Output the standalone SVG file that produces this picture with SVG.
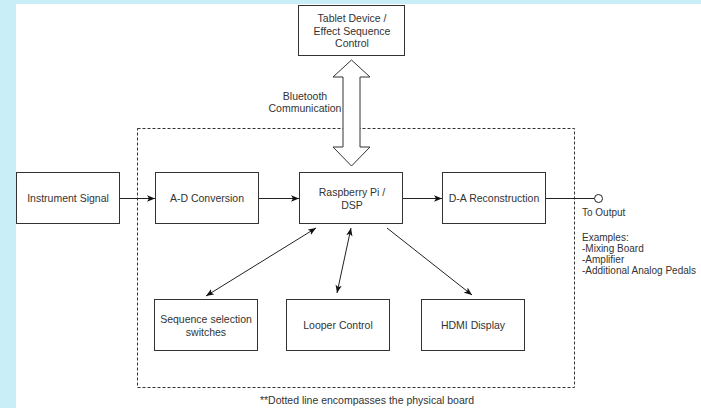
<svg xmlns="http://www.w3.org/2000/svg" width="701" height="408" viewBox="0 0 701 408">
<style>
.box{fill:#fff;stroke:#333;stroke-width:1}
.t{font-family:"Liberation Sans",Arial,sans-serif;font-size:10.5px;fill:#333;text-anchor:middle}
.tl{font-family:"Liberation Sans",Arial,sans-serif;font-size:10px;fill:#333}
.edge{fill:none;stroke:#222;stroke-width:1}
</style>
<defs>
<marker id="arr" markerUnits="userSpaceOnUse" markerWidth="9" markerHeight="8" refX="8" refY="4" orient="auto-start-reverse" viewBox="0 0 9 8">
<path d="M0,0.8 L8,4 L0,7.2 L2,4 z" fill="#111"/>
</marker>
</defs>
<rect x="0" y="0" width="701" height="408" fill="#c9eef8"/>
<rect x="16" y="4" width="685" height="404" fill="#fff"/>
<g id="board">
<rect x="137.5" y="128.5" width="437" height="259" fill="none" stroke="#333" stroke-width="1" stroke-dasharray="3 2"/>
</g>
<g id="tablet">
<rect class="box" x="298.5" y="5.5" width="106" height="50"/>
<text class="t" x="352" y="22">Tablet Device /</text>
<text class="t" x="352" y="34.5">Effect Sequence</text>
<text class="t" x="352" y="47">Control</text>
</g>
<g id="connectors">
<polygon points="351.5,60 370,77 360,77 360,147 370,147 351.5,166 333,147 343,147 343,77 333,77" fill="#fff" stroke="#333" stroke-width="1"/>
<line class="edge" x1="114" y1="198.5" x2="155" y2="198.5" marker-end="url(#arr)"/>
<line class="edge" x1="255" y1="198.5" x2="299" y2="198.5" marker-end="url(#arr)"/>
<line class="edge" x1="403" y1="198.5" x2="442" y2="198.5" marker-end="url(#arr)"/>
<line class="edge" x1="546" y1="198.5" x2="594.5" y2="198.5"/>
<line class="edge" x1="206" y1="296" x2="316" y2="228" marker-start="url(#arr)" marker-end="url(#arr)"/>
<line class="edge" x1="337" y1="293" x2="351" y2="228" marker-start="url(#arr)" marker-end="url(#arr)"/>
<line class="edge" x1="387" y1="228" x2="472" y2="295" marker-end="url(#arr)"/>
</g>
<text class="t" x="305" y="100">Bluetooth</text>
<text class="t" x="305" y="112">Communication</text>
<g id="instrument">
<rect class="box" x="16.5" y="172.5" width="103" height="51"/>
<text class="t" x="68" y="202">Instrument Signal</text>
</g>
<g id="adc">
<rect class="box" x="155.5" y="172.5" width="103" height="51"/>
<text class="t" x="207" y="202">A-D Conversion</text>
</g>
<g id="rpi">
<rect class="box" x="299.5" y="172.5" width="103" height="51"/>
<text class="t" x="352" y="196">Raspberry Pi /</text>
<text class="t" x="352" y="209">DSP</text>
</g>
<g id="dac">
<rect class="box" x="442.5" y="172.5" width="103" height="51"/>
<text class="t" x="494" y="202">D-A Reconstruction</text>
</g>
<g id="output">
<circle cx="598.5" cy="198.5" r="4" fill="#fff" stroke="#222" stroke-width="1"/>
<text class="tl" x="582" y="216">To Output</text>
<text class="tl" x="582" y="241">Examples:</text>
<text class="tl" x="582" y="252">-Mixing Board</text>
<text class="tl" x="582" y="263">-Amplifier</text>
<text class="tl" x="582" y="274">-Additional Analog Pedals</text>
</g>
<g id="seq">
<rect class="box" x="154.5" y="299.5" width="103" height="51"/>
<text class="t" x="206" y="323">Sequence selection</text>
<text class="t" x="206" y="336">switches</text>
</g>
<g id="looper">
<rect class="box" x="286.5" y="299.5" width="103" height="51"/>
<text class="t" x="338" y="329">Looper Control</text>
</g>
<g id="hdmi">
<rect class="box" x="421.5" y="299.5" width="103" height="51"/>
<text class="t" x="473" y="329">HDMI Display</text>
</g>
<text class="t" x="367" y="404">**Dotted line encompasses the physical board</text>
</svg>
